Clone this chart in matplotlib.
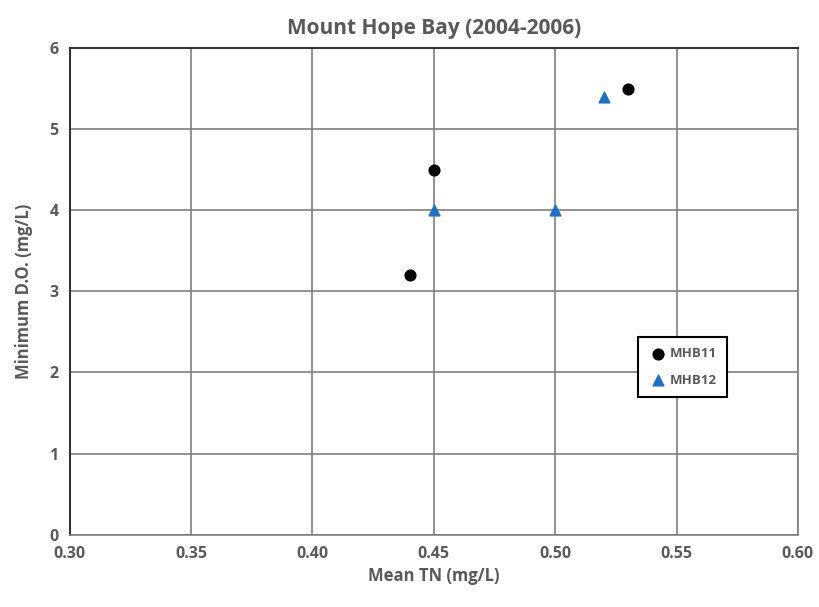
import matplotlib.pyplot as plt

# Mount Hope Bay stations
mhb11_tn = [0.44, 0.45, 0.53]
mhb11_do = [3.2, 4.5, 5.5]
mhb12_tn = [0.45, 0.50, 0.52]
mhb12_do = [4.0, 4.0, 5.4]

x_ticks = [0.30, 0.35, 0.40, 0.45, 0.50, 0.55, 0.60]
y_ticks = [0, 1, 2, 3, 4, 5, 6]

plt.rcParams['font.family'] = ['Open Sans', 'DejaVu Sans']
txt = '#595959'

fig = plt.figure(figsize=(8.2, 6.07), dpi=100)
ax = fig.add_axes([0.085, 0.119, 0.888, 0.802])

ax.scatter(mhb11_tn, mhb11_do, marker='o', s=60, color='black', label='MHB11', zorder=3)
ax.scatter(mhb12_tn, mhb12_do, marker='^', s=60, color='#1f6fc5', label='MHB12', zorder=3)

ax.set_xlim(0.30, 0.60)
ax.set_ylim(0, 6)
ax.set_xticks(x_ticks)
ax.set_xticklabels([f'{v:.2f}' for v in x_ticks])
ax.set_yticks(y_ticks)
ax.grid(True, color='#7f7f7f', linewidth=1.2)
ax.set_axisbelow(True)
ax.tick_params(length=0, labelsize=11.5, labelcolor=txt, pad=8)
for lbl in ax.get_xticklabels() + ax.get_yticklabels():
    lbl.set_fontweight('bold')
for side in ['left', 'top']:
    ax.spines[side].set_color('#333333')
    ax.spines[side].set_linewidth(1.5)
for side in ['right', 'bottom']:
    ax.spines[side].set_color('#7f7f7f')
    ax.spines[side].set_linewidth(1.2)

ax.set_title('Mount Hope Bay (2004-2006)', fontsize=15, fontweight='bold', color=txt, pad=10)
ax.set_xlabel('Mean TN (mg/L)', fontsize=12, fontweight='bold', color=txt, labelpad=4)
ax.set_ylabel('Minimum D.O. (mg/L)', fontsize=12, fontweight='bold', color=txt, labelpad=12)

leg = ax.legend(loc='lower left', bbox_to_anchor=(0.771, 0.269), fancybox=False,
                framealpha=1, edgecolor='black', handletextpad=0.1, borderpad=0.8,
                handlelength=1.5, labelspacing=1.0,
                prop={'weight': 'bold', 'size': 9.5})
leg.get_frame().set_linewidth(1.5)
for t in leg.get_texts():
    t.set_color(txt)

fig.savefig('out.png', dpi=100)
